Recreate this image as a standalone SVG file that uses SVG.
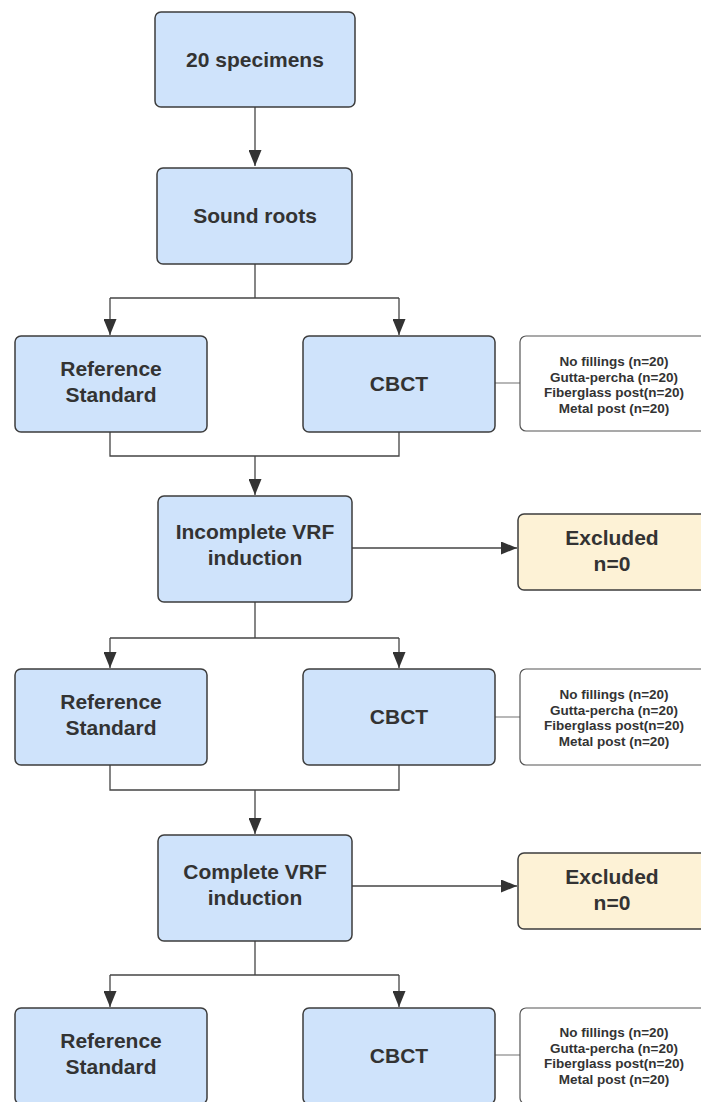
<svg xmlns="http://www.w3.org/2000/svg" width="701" height="1102" viewBox="0 0 701 1102">
<defs>
<marker id="ah" viewBox="0 0 16 13" refX="16" refY="6.5" markerWidth="16" markerHeight="13" markerUnits="userSpaceOnUse" orient="auto">
<path d="M0,0 L16,6.5 L0,13 z" fill="#333"/>
</marker>
<style>
.n{fill:#cfe3fb;stroke:#3d3d3d;stroke-width:1.5}
.x{fill:#fdf2d6;stroke:#3d3d3d;stroke-width:1.5}
.w{fill:#fff;stroke:#555;stroke-width:1.2}
.t{font-family:"Liberation Sans",Arial,sans-serif;font-weight:bold;font-size:21px;fill:#333;text-anchor:middle}
.s{font-family:"Liberation Sans",Arial,sans-serif;font-weight:bold;font-size:13.5px;fill:#333;text-anchor:middle}
.c{fill:none;stroke:#444;stroke-width:1.3}
.g{fill:none;stroke:#888;stroke-width:1.2}
</style>
</defs>
<rect width="701" height="1102" fill="#fff"/>
<g id="connectors">
<path class="c" d="M255,107 V166" marker-end="url(#ah)"/>
<path class="c" d="M255,264 V298"/>
<path class="c" d="M110,298 H399"/>
<path class="c" d="M110,298 V335" marker-end="url(#ah)"/>
<path class="c" d="M399,298 V335" marker-end="url(#ah)"/>
<path class="g" d="M495,383 H520"/>
<path class="c" d="M110,432 V456 H399 V432"/>
<path class="c" d="M255,456 V495" marker-end="url(#ah)"/>
<path class="c" d="M352,548 H517" marker-end="url(#ah)"/>
<path class="c" d="M255,602 V638"/>
<path class="c" d="M110,638 H399"/>
<path class="c" d="M110,638 V668" marker-end="url(#ah)"/>
<path class="c" d="M399,638 V668" marker-end="url(#ah)"/>
<path class="g" d="M495,717 H520"/>
<path class="c" d="M110,765 V790 H399 V765"/>
<path class="c" d="M255,790 V834" marker-end="url(#ah)"/>
<path class="c" d="M352,886 H517" marker-end="url(#ah)"/>
<path class="c" d="M255,941 V975"/>
<path class="c" d="M110,975 H399"/>
<path class="c" d="M110,975 V1007" marker-end="url(#ah)"/>
<path class="c" d="M399,975 V1007" marker-end="url(#ah)"/>
<path class="g" d="M495,1055 H520"/>
</g>
<g id="n1"><rect class="n" x="155" y="12" width="200" height="95" rx="6"/><text class="t" x="255" y="67">20 specimens</text></g>
<g id="n2"><rect class="n" x="157" y="168" width="195" height="96" rx="6"/><text class="t" x="255" y="223">Sound roots</text></g>
<g id="n3"><rect class="n" x="15" y="336" width="192" height="96" rx="6"/><text class="t" x="111" y="376">Reference</text><text class="t" x="111" y="402">Standard</text></g>
<g id="n4"><rect class="n" x="303" y="336" width="192" height="96" rx="6"/><text class="t" x="399" y="391">CBCT</text></g>
<g id="n5"><rect class="w" x="520" y="336" width="190" height="95" rx="6"/><text class="s" x="614" y="366">No fillings (n=20)</text><text class="s" x="614" y="381.5">Gutta-percha (n=20)</text><text class="s" x="614" y="397">Fiberglass post(n=20)</text><text class="s" x="614" y="412.5">Metal post (n=20)</text></g>
<g id="n6"><rect class="n" x="158" y="496" width="194" height="106" rx="6"/><text class="t" x="255" y="539">Incomplete VRF</text><text class="t" x="255" y="565">induction</text></g>
<g id="n7"><rect class="x" x="518" y="514" width="190" height="76" rx="6"/><text class="t" x="612" y="545">Excluded</text><text class="t" x="612" y="571">n=0</text></g>
<g id="n8"><rect class="n" x="15" y="669" width="192" height="96" rx="6"/><text class="t" x="111" y="709">Reference</text><text class="t" x="111" y="735">Standard</text></g>
<g id="n9"><rect class="n" x="303" y="669" width="192" height="96" rx="6"/><text class="t" x="399" y="724">CBCT</text></g>
<g id="n10"><rect class="w" x="520" y="669" width="190" height="96" rx="6"/><text class="s" x="614" y="699">No fillings (n=20)</text><text class="s" x="614" y="714.5">Gutta-percha (n=20)</text><text class="s" x="614" y="730">Fiberglass post(n=20)</text><text class="s" x="614" y="745.5">Metal post (n=20)</text></g>
<g id="n11"><rect class="n" x="158" y="835" width="194" height="106" rx="6"/><text class="t" x="255" y="879">Complete VRF</text><text class="t" x="255" y="905">induction</text></g>
<g id="n12"><rect class="x" x="518" y="853" width="190" height="76" rx="6"/><text class="t" x="612" y="884">Excluded</text><text class="t" x="612" y="910">n=0</text></g>
<g id="n13"><rect class="n" x="15" y="1008" width="192" height="96" rx="6"/><text class="t" x="111" y="1048">Reference</text><text class="t" x="111" y="1074">Standard</text></g>
<g id="n14"><rect class="n" x="303" y="1008" width="192" height="96" rx="6"/><text class="t" x="399" y="1063">CBCT</text></g>
<g id="n15"><rect class="w" x="520" y="1008" width="190" height="96" rx="6"/><text class="s" x="614" y="1037">No fillings (n=20)</text><text class="s" x="614" y="1052.5">Gutta-percha (n=20)</text><text class="s" x="614" y="1068">Fiberglass post(n=20)</text><text class="s" x="614" y="1083.5">Metal post (n=20)</text></g>
</svg>
